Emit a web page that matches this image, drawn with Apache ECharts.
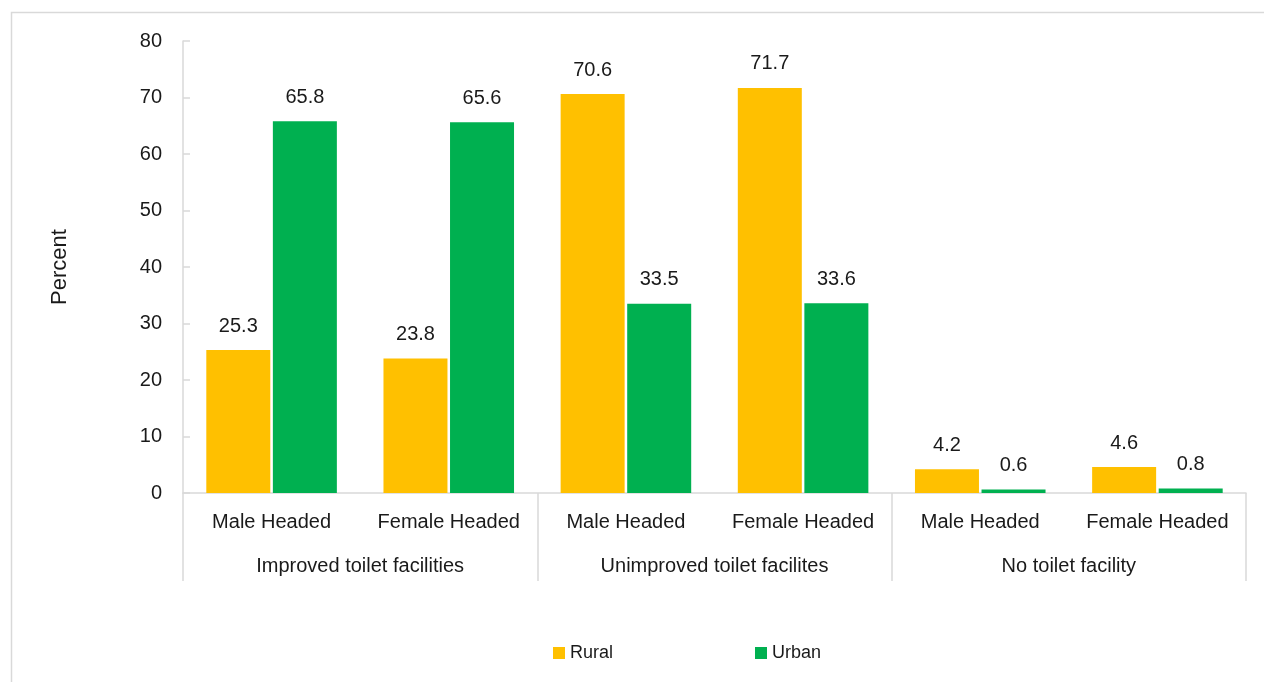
<!DOCTYPE html>
<html>
<head>
<meta charset="utf-8">
<script src="https://cdn.jsdelivr.net/npm/echarts@6/dist/echarts.min.js"></script>
<style>
html,body{margin:0;padding:0;background:#fff;}
#main{width:1264px;height:682px;}
</style>
</head>
<body>
<div id="main"></div>
<script>
const subCategories = ['Male Headed', 'Female Headed', 'Male Headed', 'Female Headed', 'Male Headed', 'Female Headed'];
const groups = ['Improved toilet facilities', 'Unimproved toilet facilites', 'No toilet facility'];
const rural = [25.3, 23.8, 70.6, 71.7, 4.2, 4.6];
const urban = [65.8, 65.6, 33.5, 33.6, 0.6, 0.8];
const seriesNames = ['Rural', 'Urban'];
const yTicks = { min: 0, max: 80, interval: 10 };

const FONT = "'Liberation Sans', Arial, sans-serif";
const TXT = '#1a1a1a';
const AX = '#d9d9d9';
const FS = 20;

const chart = echarts.init(document.getElementById('main'));
chart.setOption({
  animation: false,
  backgroundColor: '#fff',
  graphic: [{
    type: 'rect', left: 9, top: 10, silent: true,
    shape: { width: 1300, height: 700 },
    style: { fill: 'none', stroke: AX, lineWidth: 1.5 }
  }],
  grid: { left: 183, right: 18, top: 41, bottom: 189 },
  legend: {
    data: seriesNames,
    left: 548, top: 639,
    itemWidth: 12, itemHeight: 12, itemGap: 142,
    icon: 'rect',
    textStyle: { fontFamily: FONT, fontSize: 18, color: TXT }
  },
  xAxis: [{
    type: 'category',
    data: subCategories,
    position: 'bottom',
    axisLine: { show: true, lineStyle: { color: AX, width: 1.5 } },
    axisTick: { show: false },
    axisLabel: { fontFamily: FONT, fontSize: FS, color: TXT, margin: 19, interval: 0 }
  }, {
    type: 'category',
    data: groups,
    position: 'bottom',
    axisLine: { show: false },
    axisTick: { show: true, length: 88, interval: 0, lineStyle: { color: AX, width: 1.5 } },
    axisLabel: { fontFamily: FONT, fontSize: FS, color: TXT, margin: 63, interval: 0 }
  }],
  yAxis: {
    type: 'value',
    min: yTicks.min, max: yTicks.max, interval: yTicks.interval,
    name: 'Percent',
    nameLocation: 'middle',
    nameGap: 112,
    nameTextStyle: { fontFamily: FONT, fontSize: 22, color: TXT },
    axisLine: { show: true, lineStyle: { color: AX, width: 1.5 } },
    axisTick: { show: true, inside: true, length: 7, lineStyle: { color: AX, width: 1.5 } },
    axisLabel: { fontFamily: FONT, fontSize: FS, color: TXT, margin: 21 },
    splitLine: { show: false }
  },
  series: [{
    name: seriesNames[0],
    type: 'bar',
    data: rural,
    barWidth: 64,
    barGap: '4%',
    itemStyle: { color: '#FFC000' },
    label: { show: true, position: 'top', distance: 14, fontFamily: FONT, fontSize: FS, color: TXT, formatter: p => p.value.toFixed(1) }
  }, {
    name: seriesNames[1],
    type: 'bar',
    data: urban,
    barWidth: 64,
    barGap: '4%',
    itemStyle: { color: '#00B050' },
    label: { show: true, position: 'top', distance: 14, fontFamily: FONT, fontSize: FS, color: TXT, formatter: p => p.value.toFixed(1) }
  }]
});
</script>
</body>
</html>
